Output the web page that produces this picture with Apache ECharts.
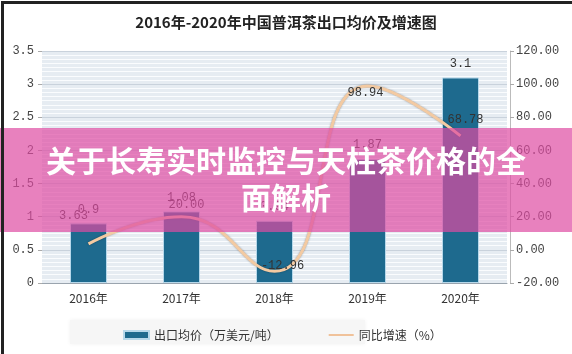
<!DOCTYPE html>
<html>
<head>
<meta charset="utf-8">
<script src="https://cdn.jsdelivr.net/npm/echarts@6/dist/echarts.min.js"></script>
<style>html,body{margin:0;padding:0;background:#fff;}#c{width:572px;height:354px;}</style>
</head>
<body>
<div id="c"></div>
<script>
var titleText = '2016年-2020年中国普洱茶出口均价及增速图';
var bannerLines = ['关于长寿实时监控与天柱茶价格的全', '面解析'];
var categories = ['2016年', '2017年', '2018年', '2019年', '2020年'];
var priceName = '出口均价（万美元/吨）';
var growthName = '同比增速（%）';
var priceValues = [0.9, 1.08, 0.94, 1.87, 3.1];
var growthValues = [3.63, 20.00, -12.96, 98.94, 68.78];
var growthLabelOffsets = [[-15, -17], [5, 0], [8, 6], [-2, 18], [5, -5]];

var mono = 'Liberation Mono';
var chart = echarts.init(document.getElementById('c'), null, {renderer: 'canvas'});

var option = {
  backgroundColor: '#ffffff',
  animation: false,
  title: {
    text: titleText, left: 'center', top: 10,
    textStyle: {fontFamily: 'Noto Sans CJK SC', fontSize: 15, fontWeight: 'bold', color: '#222'}
  },
  legend: {
    left: 118, top: 324, itemWidth: 25, itemHeight: 8, itemGap: 50,
    textStyle: {fontFamily: 'Noto Sans CJK SC', fontSize: 12, color: '#333'},
    data: [{name: priceName, icon: 'rect'},
      {name: growthName, icon: 'path://M0,0 L25,0 L25,2 L0,2 Z', itemStyle: {color: '#f0c29a', opacity: 1}}]
  },
  grid: {left: 42, right: 65, top: 51, bottom: 71, show: true, backgroundColor: '#e6ecf2', borderWidth: 0},
  xAxis: {
    type: 'category', data: categories,
    axisLine: {lineStyle: {color: '#9aa4ae'}},
    axisTick: {show: false},
    axisLabel: {fontFamily: 'Noto Sans CJK SC', fontSize: 12, color: '#333', margin: 9}
  },
  yAxis: [{
    type: 'value', min: 0, max: 3.5, interval: 0.5,
    axisLine: {show: false},
    axisTick: {show: true, length: 4, lineStyle: {color: '#aaa'}},
    axisLabel: {fontFamily: mono, fontSize: 12, color: '#444', margin: 8},
    splitLine: {lineStyle: {color: '#c9d2dc'}},
    minorTick: {show: false, splitNumber: 8},
    minorSplitLine: {show: true, lineStyle: {color: '#fafcfe', width: 1}}
  }, {
    type: 'value', min: -20, max: 120, interval: 20,
    axisLine: {show: true, lineStyle: {color: '#bbb'}},
    axisTick: {show: true, length: 4, lineStyle: {color: '#aaa'}},
    axisLabel: {fontFamily: mono, fontSize: 12, color: '#444', margin: 6,
      formatter: function (v) { return v.toFixed(2); }},
    splitLine: {show: false},
    offset: 3
  }],
  series: [{
    name: priceName, type: 'bar', yAxisIndex: 0, barWidth: 37,
    data: priceValues,
    itemStyle: {color: '#1e6a8e', borderColor: '#b7d8ea', borderWidth: 1},
    label: {show: true, position: 'top', distance: 8, fontFamily: mono, fontSize: 12, color: '#333'},
    z: 2
  }, {
    name: growthName, type: 'line', yAxisIndex: 1, smooth: 0.5,
    showSymbol: true, symbol: 'circle', symbolSize: 1,
    data: growthValues.map(function (v, i) {
      return {value: v, label: {offset: growthLabelOffsets[i]}};
    }),
    lineStyle: {color: '#f3caa2', width: 3, shadowColor: 'rgba(0,0,0,0.35)', shadowBlur: 2},
    itemStyle: {color: 'rgba(0,0,0,0)', borderWidth: 0},
    label: {show: true, position: 'top', fontFamily: mono, fontSize: 12, color: '#333',
      formatter: function (p) { return Number(p.value).toFixed(2); }},
    z: 3
  }],
  graphic: [
    {type: 'rect', left: 70, top: 320, z: -1, shape: {width: 295, height: 24},
      style: {fill: '#f6f6f6', shadowBlur: 4, shadowColor: 'rgba(0,0,0,0.06)'}},
    {type: 'rect', left: 0, top: 128, z: 100, shape: {width: 572, height: 104},
      style: {fill: 'rgba(222,76,162,0.7)'}},
    {type: 'text', x: 286, y: 161, z: 101,
      style: {text: bannerLines[0], fill: '#fff', font: 'bold 30px "Noto Sans CJK SC"',
        textAlign: 'center', textVerticalAlign: 'middle', shadowBlur: 3, shadowColor: 'rgba(0,0,0,0.3)'}},
    {type: 'text', x: 286, y: 198, z: 101,
      style: {text: bannerLines[1], fill: '#fff', font: 'bold 30px "Noto Sans CJK SC"',
        textAlign: 'center', textVerticalAlign: 'middle', shadowBlur: 3, shadowColor: 'rgba(0,0,0,0.3)'}},
    {type: 'rect', left: 0, top: 0, z: 102, shape: {width: 572, height: 354},
      style: {fill: 'none', stroke: '#222', lineWidth: 3}}
  ]
};
chart.setOption(option);
</script>
</body>
</html>
